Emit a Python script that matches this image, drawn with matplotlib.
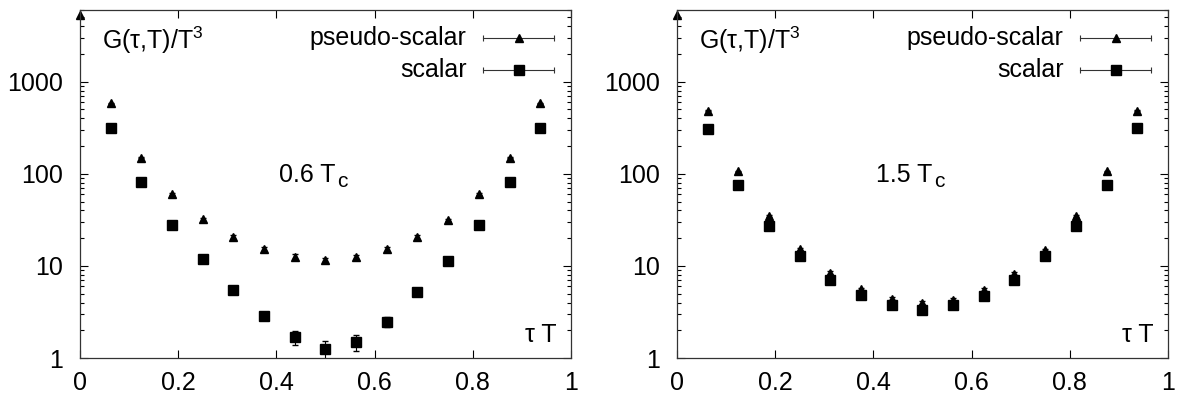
import numpy as np
import matplotlib
matplotlib.use('Agg')
import matplotlib.pyplot as plt
from matplotlib.transforms import offset_copy

plt.rcParams['font.family'] = ['Liberation Sans', 'DejaVu Sans']
plt.rcParams['mathtext.fontset'] = 'custom'
plt.rcParams['mathtext.rm'] = 'Liberation Sans'
plt.rcParams['mathtext.it'] = 'Liberation Sans'

# euclidean time tau*T, N_tau = 16
tau = np.arange(1, 16) / 16.0

# 0.6 Tc
ps_06 = [585, 150, 60, 32, 20.7, 15.4, 12.6, 11.6, 12.45, 15.1, 20.6, 31.5, 60, 150, 585]
ps_06_err = [8, 3, 1.2, 1.0, 0.9, 0.8, 0.7, 0.6, 0.7, 0.8, 0.9, 1.0, 1.2, 3, 8]
sc_06 = [318, 82, 27.8, 11.75, 5.54, 2.84, 1.68, 1.25, 1.48, 2.46, 5.18, 11.3, 27.5, 82, 318]
sc_06_err = [4, 1.5, 0.6, 0.4, 0.25, 0.15, 0.28, 0.28, 0.3, 0.3, 0.25, 0.4, 0.6, 1.5, 4]

# 1.5 Tc
ps_15 = [483, 106, 34.8, 15.1, 8.4, 5.6, 4.4, 3.97, 4.31, 5.54, 8.27, 14.9, 34.8, 106, 483]
ps_15_err = [6, 2, 0.6, 0.4, 0.3, 0.2, 0.15, 0.15, 0.15, 0.2, 0.3, 0.4, 0.6, 2, 6]
sc_15 = [305, 75, 27.1, 12.8, 7.1, 4.8, 3.74, 3.36, 3.74, 4.69, 7.0, 12.8, 27.1, 76, 313]
sc_15_err = [4, 1.2, 0.5, 0.3, 0.2, 0.15, 0.12, 0.12, 0.12, 0.15, 0.2, 0.3, 0.5, 1.2, 4]

# point at tau=0 sitting on the top border
edge_tau = [0.0]
edge_val = [5300]

temps = ['0.6', '1.5']
x_ticks = [0, 0.2, 0.4, 0.6, 0.8, 1]
x_labels = ['0', '0.2', '0.4', '0.6', '0.8', '1']
y_ticks = [1, 10, 100, 1000]
y_labels = ['1', '10', '100', '1000']

fs = 18


def key_entry(ax, y, label, marker, ms):
    ax.text(0.788, y, label, transform=ax.transAxes, ha='right', va='center', fontsize=fs)
    ax.plot([0.821, 0.965], [y, y], transform=ax.transAxes, color='#333333', lw=0.8, clip_on=False)
    ax.plot([0.821, 0.965], [y, y], transform=ax.transAxes, ls='none', marker='|', ms=5,
            mew=0.8, color='#333333', clip_on=False)
    ax.plot([0.894], [y], transform=ax.transAxes, ls='none', marker=marker, ms=ms,
            color='black', clip_on=False)


fig = plt.figure(figsize=(11.81, 3.97), dpi=100)
ax1 = fig.add_axes([0.0677, 0.0982, 0.4157, 0.8766])
ax2 = fig.add_axes([0.5732, 0.0982, 0.4157, 0.8766])

panels = [(ax1, ps_06, ps_06_err, sc_06, sc_06_err, temps[0]),
          (ax2, ps_15, ps_15_err, sc_15, sc_15_err, temps[1])]

for ax, ps, ps_err, sc, sc_err, label in panels:
    ax.set_yscale('log')
    ax.errorbar(tau, sc, yerr=sc_err, ls='none', marker='s', ms=7.2, color='black',
                elinewidth=0.8, capsize=2)
    ax.errorbar(tau, ps, yerr=ps_err, ls='none', marker='^', ms=5.8, color='black',
                elinewidth=0.8, capsize=2)
    ax.plot(edge_tau, edge_val, ls='none', marker='^', ms=5.8, color='black', clip_on=False)
    ax.set_xlim(0, 1)
    ax.set_ylim(1, 6000)
    ax.set_xticks(x_ticks)
    ax.set_xticklabels(x_labels, fontsize=fs)
    ax.set_yticks(y_ticks)
    ax.set_yticklabels(y_labels, fontsize=fs)
    ax.tick_params(which='both', direction='in', top=True, right=True, width=0.8)
    ax.tick_params(which='major', length=6)
    ax.tick_params(which='minor', length=3)
    ax.tick_params(axis='y', pad=12)
    ax.tick_params(axis='x', pad=9)
    for s in ax.spines.values():
        s.set_linewidth(0.9)
        s.set_color('#333333')

    ax.text(0.045, 0.914, 'G(τ,T)/T$^3$', transform=ax.transAxes, ha='left', va='center', fontsize=fs)
    ax.text(0.521, 0.526, label + ' T', transform=ax.transAxes, ha='right', va='center', fontsize=fs)
    ax.text(0.524, 0.526, 'c', ha='left', va='center', fontsize=15,
            transform=offset_copy(ax.transAxes, fig=fig, x=0, y=-5, units='points'))
    ax.text(0.971, 0.066, 'τ T', transform=ax.transAxes, ha='right', va='center', fontsize=fs)
    key_entry(ax, 0.920, 'pseudo-scalar', '^', 5.8)
    key_entry(ax, 0.828, 'scalar', 's', 7.2)

plt.savefig('out.png', dpi=100)
